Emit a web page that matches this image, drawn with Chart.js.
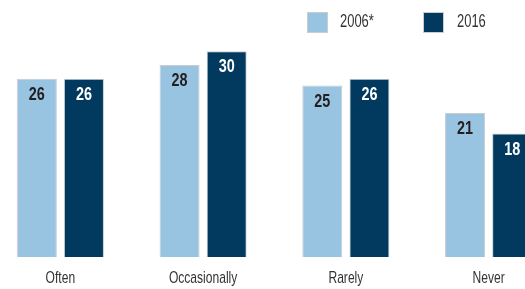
<!DOCTYPE html>
<html>
<head>
<meta charset="utf-8">
<script src="https://cdn.jsdelivr.net/npm/chart.js@4"></script>
<style>
  html, body { margin: 0; padding: 0; background: #fff; overflow: hidden; }
  body { width: 525px; height: 289px; position: relative; }
  #wrap { position: absolute; left: -11px; top: 0; width: 571px; height: 289px; }
  .box { position: absolute; top: 12px; width: 19px; height: 19px; border: 1px solid #c9cdd0; }
  .txt { position: absolute; top: 10px; white-space: nowrap; line-height: 22px;
         font-family: "Liberation Sans", Arial, sans-serif; font-size: 18px; color: #333;
         transform: scaleX(0.72); transform-origin: left center; }
</style>
</head>
<body>
<div id="wrap"><canvas id="chart"></canvas></div>
<span class="box" style="left:307px;background:#98c3e1"></span><span class="txt" style="left:340px">2006*</span>
<span class="box" style="left:423px;background:#023a5f"></span><span class="txt" style="left:457px">2016</span>
<script>
document.addEventListener('DOMContentLoaded', () => {

    const categories = ['Often', 'Occasionally', 'Rarely', 'Never'];
    const values2006 = [26, 28, 25, 21];
    const values2016 = [26, 30, 26, 18];
    const seriesNames = ['2006*', '2016'];

    const lightBlue = '#98c3e1';
    const navy = '#023a5f';
    const fontFamily = '"Liberation Sans", Arial, sans-serif';

    // condensed text: normal font squeezed horizontally
    const narrowText = (ctx, text, x, y, sx) => {
        ctx.save();
        ctx.translate(x, y);
        ctx.scale(sx, 1);
        ctx.fillText(text, 0, 0);
        ctx.restore();
    };

    // value at the top of each bar + category names under the axis
    const barText = {
        id: 'barText',
        afterDatasetsDraw(chart) {
            const ctx = chart.ctx;
            ctx.save();
            ctx.textAlign = 'center';
            ctx.textBaseline = 'alphabetic';
            ctx.font = 'bold 18px ' + fontFamily;
            chart.data.datasets.forEach((ds, i) => {
                const meta = chart.getDatasetMeta(i);
                meta.data.forEach((bar, j) => {
                    ctx.fillStyle = i === 0 ? '#231f20' : '#ffffff';
                    narrowText(ctx, String(ds.data[j]), bar.x, bar.y + 21, 0.8);
                });
            });
            const xScale = chart.scales.x;
            ctx.font = '17px ' + fontFamily;
            ctx.fillStyle = '#333';
            chart.data.labels.forEach((label, i) => {
                narrowText(ctx, label, xScale.getPixelForTick(i), chart.chartArea.bottom + 26, 0.71);
            });
            ctx.restore();
        }
    };

    const ctx = document.getElementById('chart').getContext('2d');
    new Chart(ctx, {
        type: 'bar',
        data: {
            labels: categories,
            datasets: [
                {
                    label: seriesNames[0],
                    data: values2006,
                    backgroundColor: lightBlue,
                    borderColor: '#c9cdd0',
                    borderWidth: 1
                },
                {
                    label: seriesNames[1],
                    data: values2016,
                    backgroundColor: navy,
                    borderColor: '#c9cdd0',
                    borderWidth: 1
                }
            ]
        },
        options: {
            responsive: true,
            maintainAspectRatio: false,
            animation: false,
            categoryPercentage: 0.66,
            barPercentage: 0.85,
            layout: {
                padding: { top: 17, bottom: 32, left: 0, right: 0 }
            },
            plugins: {
                legend: { display: false },
                tooltip: { enabled: false }
            },
            scales: {
                x: { display: false },
                y: { display: false, min: 0, max: 35 }
            }
        },
        plugins: [barText]
    });
});
</script>
</body>
</html>
